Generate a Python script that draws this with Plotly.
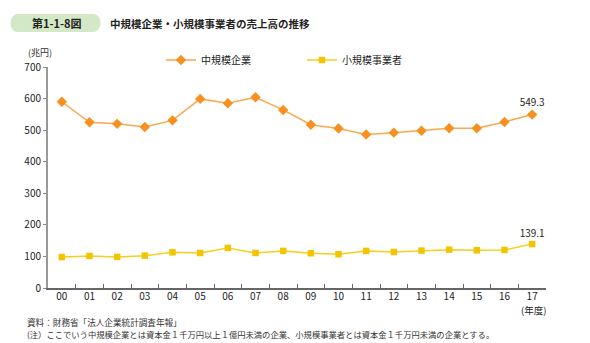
import plotly.graph_objects as go

years = ["00","01","02","03","04","05","06","07","08","09","10","11","12","13","14","15","16","17"]
mid = [590, 525, 520, 510, 531, 599, 585, 604, 564, 517, 505, 486, 492, 498, 506, 506, 526, 549.3]
small = [98, 101.5, 98.5, 102.5, 113, 111, 127, 111, 117.5, 110, 107, 117.5, 114, 118.5, 121.5, 119.5, 120.5, 139.1]
yticks = [0, 100, 200, 300, 400, 500, 600, 700]

FONT = "Noto Sans CJK JP"
W, H = 590, 343
L, R, T, B = 48, 44, 67, 55
PW, PH = W - L - R, H - T - B

def px(x):
    return (x - L) / PW

def py(y):
    return (H - B - y) / PH

def last_label(vals):
    return [""] * (len(vals) - 1) + [f"{vals[-1]:.1f}"]

fig = go.Figure()
fig.add_trace(go.Scatter(
    x=years, y=mid, name="中規模企業", mode="lines+markers+text",
    line=dict(color="#F9A84F", width=1.5),
    marker=dict(symbol="diamond", size=8, color="#F7901E"),
    text=last_label(mid), textposition="top center",
    textfont=dict(size=10, color="#222", family=FONT),
    cliponaxis=False,
))
fig.add_trace(go.Scatter(
    x=years, y=small, name="小規模事業者", mode="lines+markers+text",
    line=dict(color="#F5CF20", width=1.5),
    marker=dict(symbol="square", size=6.5, color="#F2C500"),
    text=last_label(small), textposition="top center",
    textfont=dict(size=10, color="#222", family=FONT),
    cliponaxis=False,
))

# title pill
x0, x1, y0, y1 = 9, 102, 14, 32
r = 9
path = (f"M {px(x0+r)} {py(y0)} L {px(x1-r)} {py(y0)} "
        f"C {px(x1+1)} {py(y0)} {px(x1+1)} {py(y1)} {px(x1-r)} {py(y1)} "
        f"L {px(x0+r)} {py(y1)} "
        f"C {px(x0-1)} {py(y1)} {px(x0-1)} {py(y0)} {px(x0+r)} {py(y0)} Z")
fig.add_shape(type="path", path=path, xref="paper", yref="paper",
              fillcolor="#D3E8C6", line=dict(width=0), layer="below")

anns = [
    dict(x=px(57), y=py(23), text="<b>第1-1-8図</b>", font=dict(size=11, color="#222")),
    dict(x=px(108), y=py(23), text="<b>中規模企業・小規模事業者の売上高の推移</b>", xanchor="left",
         font=dict(size=10.5, color="#222")),
    dict(x=px(26), y=py(52), text="(兆円)", xanchor="left", font=dict(size=9, color="#333")),
    dict(x=px(533), y=py(310), text="(年度)", font=dict(size=9.5, color="#222")),
    dict(x=px(25), y=py(322), text="資料：財務省「法人企業統計調査年報」", xanchor="left",
         font=dict(size=8.6, color="#333")),
    dict(x=px(25), y=py(334),
         text="(注）ここでいう中規模企業とは資本金１千万円以上１億円未満の企業、小規模事業者とは資本金１千万円未満の企業とする。",
         xanchor="left", font=dict(size=8.3, color="#333")),
]
for a in anns:
    a.update(xref="paper", yref="paper", showarrow=False, yanchor="middle")
    a.setdefault("xanchor", "center")
    a["font"]["family"] = FONT
    fig.add_annotation(**a)

fig.update_layout(
    width=W, height=H,
    margin=dict(l=L, r=R, t=T, b=B, autoexpand=False),
    paper_bgcolor="white", plot_bgcolor="white",
    font=dict(family=FONT, size=10, color="#222"),
    showlegend=True,
    legend=dict(orientation="h", x=px(161), y=py(60), xanchor="left", yanchor="middle",
                entrywidth=96, font=dict(size=10, color="#222"), bgcolor="rgba(0,0,0,0)",
                itemwidth=30),
    xaxis=dict(type="category", categoryorder="array", categoryarray=years,
               range=[-0.5, 17.5], tickson="boundaries", ticks="inside", ticklen=4,
               ticklabelstandoff=-2,
               tickcolor="#666", showline=True, linecolor="#666", linewidth=1.5,
               showgrid=False, zeroline=False, tickfont=dict(size=10)),
    yaxis=dict(range=[0, 700], tickvals=yticks, ticks="outside", ticklen=3,
               tickcolor="#888", showline=True, linecolor="#999", linewidth=2,
               showgrid=False, zeroline=False, tickfont=dict(size=10)),
)

fig.write_html("out.html")
